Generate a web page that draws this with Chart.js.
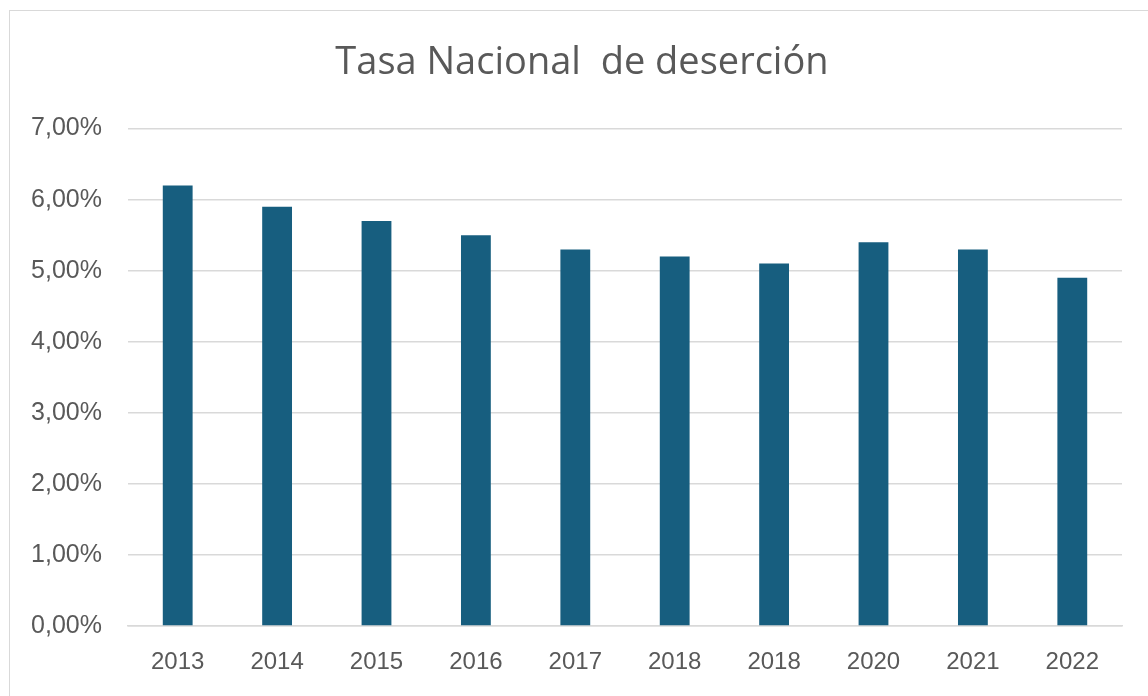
<!DOCTYPE html>
<html>
<head>
<meta charset="utf-8">
<script src="https://cdn.jsdelivr.net/npm/chart.js@4/dist/chart.umd.min.js"></script>
<style>
  html, body { margin: 0; padding: 0; background: #fff; }
  #wrap { position: relative; width: 1148px; height: 696px; overflow: hidden; }
  #frame {
    position: absolute; left: 9px; top: 10px; right: -2px; bottom: -2px;
    border-top: 1.5px solid #d9d9d9; border-left: 1.5px solid #d9d9d9;
  }
  canvas { position: absolute; left: 0; top: 0; }
</style>
</head>
<body>
<div id="wrap">
  <div id="frame"></div>
  <canvas id="chart" width="1148" height="696"></canvas>
</div>
<script>
// --- Données ---
const years = ['2013', '2014', '2015', '2016', '2017', '2018', '2018', '2020', '2021', '2022'];
const rates = [6.2, 5.9, 5.7, 5.5, 5.3, 5.2, 5.1, 5.4, 5.3, 4.9];
const titleText = 'Tasa Nacional  de deserción';

const GREY = '#595959';
const fmtPct = (v) => v.toFixed(2).replace('.', ',') + '%';

new Chart(document.getElementById('chart').getContext('2d'), {
  type: 'bar',
  data: {
    labels: years,
    datasets: [{
      data: rates,
      backgroundColor: '#175e7f',
      borderWidth: 0,
      barPercentage: 0.6,
      categoryPercentage: 0.5
    }]
  },
  options: {
    responsive: false,
    animation: false,
    layout: { padding: { left: 16, right: 0, top: 0, bottom: 0 } },
    plugins: {
      legend: { display: false },
      tooltip: { enabled: false },
      title: {
        display: true,
        text: titleText,
        color: GREY,
        font: { family: 'Open Sans, sans-serif', size: 38, weight: 'normal' },
        padding: { top: 40, bottom: 43 }
      }
    },
    scales: {
      x: {
        grid: { display: false, drawTicks: false },
        border: { color: '#d9d9d9', width: 1.5 },
        ticks: {
          color: GREY,
          font: { family: 'Liberation Sans, Arial, sans-serif', size: 24 },
          padding: 22,
          maxRotation: 0
        },
        afterFit: (s) => { s.height = 70; }
      },
      y: {
        min: 0,
        max: 7,
        ticks: {
          stepSize: 1,
          color: GREY,
          font: { family: 'Liberation Sans, Arial, sans-serif', size: 25 },
          padding: 26,
          callback: (v) => fmtPct(v)
        },
        grid: { color: '#d9d9d9', lineWidth: 1.5, drawTicks: false },
        border: { display: false },
        afterFit: (s) => { s.width = 112; }
      },
      // espace vide à droite de la zone de tracé
      yRight: {
        position: 'right',
        min: 0,
        max: 7,
        grid: { display: false, drawTicks: false },
        border: { display: false },
        ticks: { display: false },
        afterFit: (s) => { s.width = 26; }
      }
    }
  }
});
</script>
</body>
</html>
